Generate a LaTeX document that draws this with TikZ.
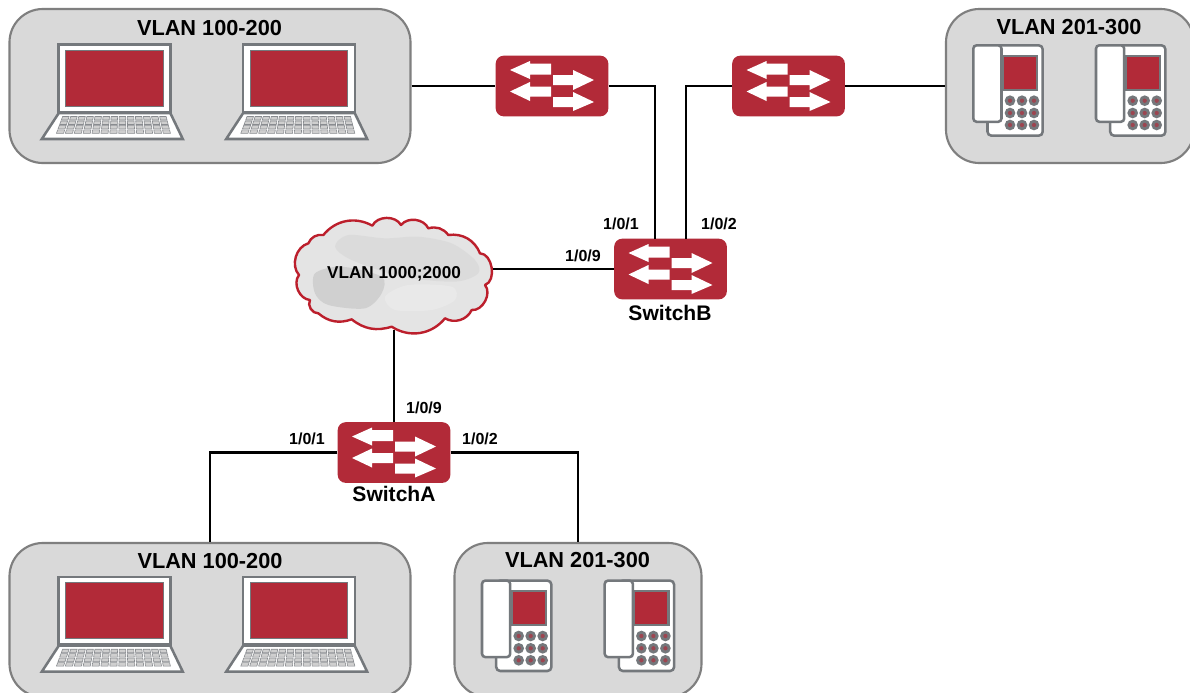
\documentclass[tikz,border=0pt]{standalone}
\usepackage{fontspec}
\setmainfont{Liberation Sans}
\definecolor{netred}{HTML}{B22A38}
\definecolor{cloudred}{HTML}{BC1F2C}
\definecolor{edgegray}{HTML}{74787C}
\definecolor{boxfill}{HTML}{D9D9D9}
\definecolor{boxedge}{HTML}{7F7F7F}
\definecolor{keyfill}{HTML}{CFCFCF}
\def\cloudpath{(115,75) to[bend left=40] (262,47) to[bend left=62] (348,45) to[bend left=58] (430,55) to[bend left=35] (490,75) to[bend left=38] (585,130) to[bend left=80] (600,225) to[bend left=68] (560,300) to[bend left=48] (480,325) to[bend left=42] (320,350) to[bend left=28] (200,328) to[bend left=30] (100,310) to[bend left=62] (75,270) to[bend left=62] (42,195) to[bend left=58] (70,100) to[bend left=38] (115,75) -- cycle}
\tikzset{
  x=.75pt,y=-.75pt,
  gbox/.style={draw=boxedge,fill=boxfill,line width=1.6pt,rounded corners=25pt,minimum width=#1*.75pt,minimum height=115.5pt,inner sep=0pt},
  swbox/.style={fill=netred,rounded corners=6pt,minimum width=84.5pt,minimum height=45.5pt,inner sep=0pt},
  wire/.style={line width=1.7pt,black},
  title/.style={font=\bfseries\fontsize{16.3}{18}\selectfont,inner sep=0pt},
  port/.style={font=\bfseries\fontsize{12}{14}\selectfont,inner sep=0pt},
  swname/.style={font=\bfseries\fontsize{15.8}{18}\selectfont,inner sep=0pt},
  cloudnode/.style={font=\bfseries\fontsize{12.9}{15}\selectfont,minimum width=148.5pt,minimum height=84pt,inner sep=0pt},
  pics/swarrows/.style={code={
    \fill[white] (-42,-16)--(-22,-25)--(-22,-22.5)--(-1,-22.5)--(-1,-11.5)--(-22,-11.5)--(-22,-7)--cycle;
    \fill[white] (-42,5.5)--(-22,-4)--(-22,0.5)--(-1,0.5)--(-1,10.5)--(-22,10.5)--(-22,15)--cycle;
    \fill[white] (42,-6)--(21,-16)--(21,-11)--(1,-11)--(1,-1)--(21,-1)--(21,4)--cycle;
    \fill[white] (42,16)--(21,6)--(21,11)--(1,11)--(1,21)--(21,21)--(21,25)--cycle;
  }},
  pics/laptop/.style={code={
    \draw[edgegray,line width=1.9pt,fill=white,line join=miter] (1.5,70)--(113,70)--(125.5,96)--(-15.5,96)--cycle;
    \draw[edgegray,line width=1.9pt,fill=white] (1.3,1.3) rectangle (113.4,69);
    \fill[netred] (8.4,7) rectangle (105.7,63);
    \draw[edgegray,line width=.5pt] (8.4,7) rectangle (105.7,63);
    \foreach \r in {0,...,3}{
      \foreach \c in {0,...,12}{
        \pgfmathsetmacro{\ya}{73.5+4.45*\r}
        \pgfmathsetmacro{\yb}{\ya+3.5}
        \pgfmathsetmacro{\la}{4.7-6.7*(\ya-73)/18}
        \pgfmathsetmacro{\ra}{109.5+4.7*(\ya-73)/18}
        \pgfmathsetmacro{\lb}{4.7-6.7*(\yb-73)/18}
        \pgfmathsetmacro{\rb}{109.5+4.7*(\yb-73)/18}
        \pgfmathsetmacro{\xa}{\la+(\ra-\la)*(\c+.1)/13}
        \pgfmathsetmacro{\xb}{\la+(\ra-\la)*(\c+.9)/13}
        \pgfmathsetmacro{\xc}{\lb+(\rb-\lb)*(\c+.9)/13}
        \pgfmathsetmacro{\xd}{\lb+(\rb-\lb)*(\c+.1)/13}
        \draw[edgegray!85,fill=keyfill,line width=.45pt] (\xa,\ya)--(\xb,\ya)--(\xc,\yb)--(\xd,\yb)--cycle;
      }
    }
  }},
  pics/phone/.style={code={
    \draw[edgegray,line width=1.9pt,fill=white,rounded corners=3pt] (15.5,1.3)--(70.7,1.3)--(70.7,91.7)--(15.5,91.7)--cycle;
    \fill[edgegray] (30,11) rectangle (66.3,46.7);
    \fill[netred] (32,13) rectangle (64,44.5);
    \foreach \py in {56.7,69,81}{
      \foreach \px in {38,50,62}{
        \fill[edgegray] (\px,\py) circle (4pt);
        \fill[netred!65!edgegray] (\px,\py) circle (1.6pt);
      }
    }
    \draw[edgegray,line width=1.9pt,fill=white,rounded corners=2.5pt] (1.3,1.3) rectangle (29.5,77.8);
  }},
}
\begin{document}
\begin{tikzpicture}
\path[use as bounding box,clip] (0,0) rectangle (1190,693);
\fill[white] (0,0) rectangle (1190,693);

% group boxes
\node[gbox=401] (g1) at (210,86) {};
\node[gbox=248] (g2) at (1070,86) {};
\node[gbox=401] (g3) at (210,620) {};
\node[gbox=247] (g4) at (578,620) {};
\node[title] (t1) at (209.5,28) {VLAN 100-200};
\node[title] (t2) at (1069,27) {VLAN 201-300};
\node[title] (t3) at (210,561) {VLAN 100-200};
\node[title] (t4) at (577.5,560) {VLAN 201-300};

% devices
\pic at (57.3,43) {laptop};
\pic at (241.7,43) {laptop};
\pic at (57.3,575.7) {laptop};
\pic at (241.7,575.7) {laptop};
\pic at (972,44) {phone};
\pic at (1094.7,44) {phone};
\pic at (480.7,579.3) {phone};
\pic at (603.4,579.3) {phone};

% cloud
\begin{scope}[shift={(285,210)},x=.25pt,y=-.25pt]
  \fill[boxfill!70!white] \cloudpath;
  \begin{scope}
    \clip \cloudpath;
    \fill[gray!40,opacity=.35] plot[smooth cycle] coordinates {(150,110)(190,75)(300,85)(400,80)(500,100)(570,150)(580,190)(510,215)(350,200)(200,150)};
    \fill[gray!60,opacity=.4] plot[smooth cycle] coordinates {(90,190)(170,170)(290,200)(290,250)(240,295)(130,285)(90,250)};
    \fill[white,opacity=.2] plot[smooth cycle] coordinates {(300,260)(370,225)(500,230)(510,270)(440,300)(330,300)};
  \end{scope}
  \draw[cloudred,line width=1.8pt,line join=round] \cloudpath;
\end{scope}
\node[cloudnode] (cloud) at (394,274) {VLAN 1000;2000};

% switches
\node[swbox] (sw1) at (552,86) {};
\node[swbox] (sw2) at (788.5,86) {};
\node[swbox] (sb) at (670.5,269) {};
\node[swbox] (sa) at (394,452.5) {};
\pic at (sw1.center) {swarrows};
\pic at (sw2.center) {swarrows};
\pic at (sb.center) {swarrows};
\pic at (sa.center) {swarrows};

% connector ends on SwitchB
\coordinate (sbp1) at (655,239);
\coordinate (sbp2) at (686,239);

% connectors
\draw[wire] (g1.east) -- (sw1.west);
\draw[wire] (sw2.east) -- (g2.west);
\draw[wire] (sw1.east) -| (sbp1);
\draw[wire] (sw2.west) -| (sbp2);
\draw[wire] (cloud.east |- sb.west) -- (sb.west);
\draw[wire] (cloud.south) -- (sa.north);
\draw[wire] (sa.west) -| (g3.north);
\draw[wire] (sa.east) -| (g4.north);

% labels
\node[port] (p1) at (621,224) {1/0/1};
\node[port] (p2) at (719,224) {1/0/2};
\node[port] (p3) at (583,256) {1/0/9};
\node[port] (p4) at (424,408) {1/0/9};
\node[port] (p5) at (307,439) {1/0/1};
\node[port] (p6) at (480,439) {1/0/2};
\node[swname] (n1) at (670,312.5) {SwitchB};
\node[swname] (n2) at (394,494) {SwitchA};
\end{tikzpicture}
\end{document}
